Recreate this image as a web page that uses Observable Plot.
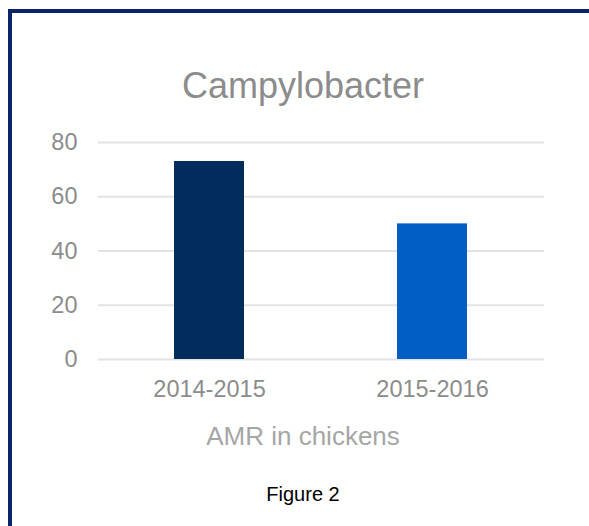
<!DOCTYPE html>
<html>
<head>
<meta charset="utf-8">
<script src="https://cdn.jsdelivr.net/npm/d3@7"></script>
<script src="https://cdn.jsdelivr.net/npm/@observablehq/plot@0.6"></script>
<style>
  html, body { margin: 0; padding: 0; background: #fff; overflow: hidden; width: 589px; height: 526px; }
  #wrap { position: relative; width: 589px; height: 526px; font-family: "Liberation Sans", Arial, sans-serif; }
  #frame { position: absolute; left: 8px; top: 9px; width: 800px; height: 800px; box-sizing: border-box;
           border-left: 4px solid #0b2468; border-top: 4px solid #0b2468; pointer-events: none; }
  .centered { box-sizing: border-box; width: 589px; padding-left: 17px; text-align: center; white-space: nowrap; }
  #title { height: 110px; padding-top: 68px; font-size: 36px; line-height: 36px; color: #8c8c8c; }
  #chart svg { display: block; }
  #xlabel { margin-top: 13px; font-size: 26px; line-height: 26px; color: #a6a6a6; }
  #caption { margin-top: 35px; font-size: 20px; line-height: 20px; color: #000; }
</style>
</head>
<body>
<div id="wrap">
  <div id="title" class="centered"></div>
  <div id="chart"></div>
  <div id="xlabel" class="centered"></div>
  <div id="caption" class="centered"></div>
  <div id="frame"></div>
</div>
<script>
const chartTitle = "Campylobacter";
const xAxisLabel = "AMR in chickens";
const captionText = "Figure 2";
const periods = ["2014-2015", "2015-2016"];
const values = [73, 50];
const barColors = ["#022c5c", "#005ec4"];
const yTicks = [0, 20, 40, 60, 80];

const data = periods.map((p, i) => ({period: p, value: values[i]}));

document.getElementById("title").textContent = chartTitle;
document.getElementById("xlabel").textContent = xAxisLabel;
document.getElementById("caption").textContent = captionText;

const chart = Plot.plot({
  width: 589,
  height: 300,
  marginTop: 32,
  marginBottom: 51,
  marginLeft: 98,
  marginRight: 45,
  style: {fontFamily: "'Liberation Sans', Arial, sans-serif", background: "#fff"},
  x: {domain: periods, paddingInner: 0.686, paddingOuter: 0.343, label: null},
  y: {domain: [0, 80], label: null},
  color: {domain: periods, range: barColors},
  marks: [
    Plot.gridY(yTicks, {stroke: "#e3e3e3", strokeOpacity: 1, strokeWidth: 2}),
    Plot.barY(data, {x: "period", y: "value", fill: "period"}),
    Plot.axisY(yTicks, {tickSize: 0, tickPadding: 21, fontSize: 23.5, color: "#8c8c8c", label: null}),
    Plot.axisX({tickSize: 0, tickPadding: 21, fontSize: 23.5, color: "#8c8c8c", label: null})
  ]
});
document.getElementById("chart").appendChild(chart);
</script>
</body>
</html>
